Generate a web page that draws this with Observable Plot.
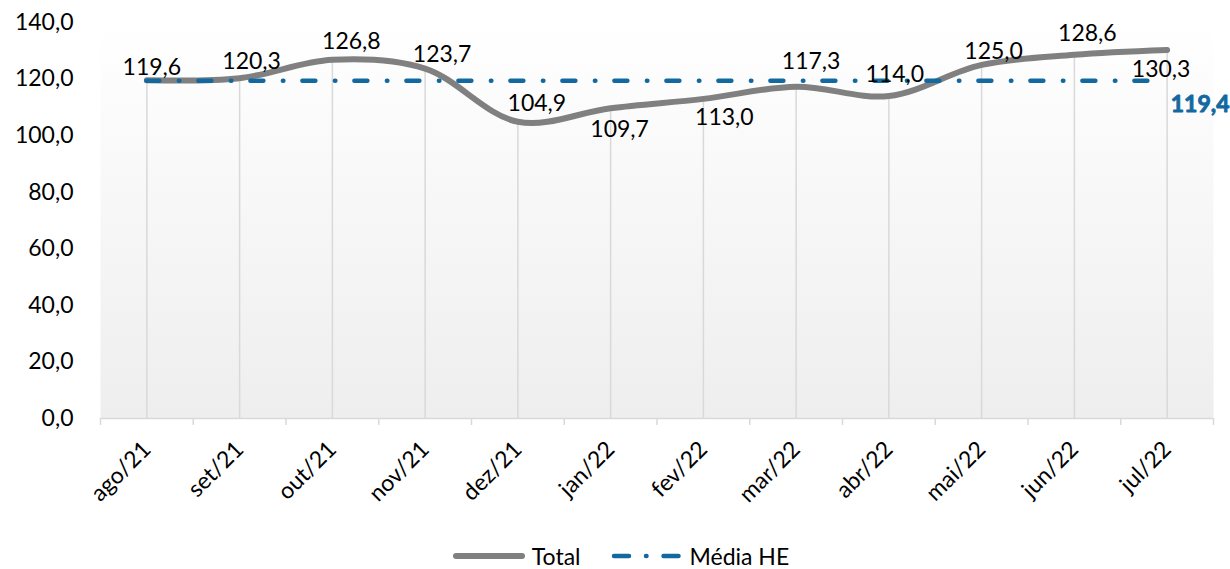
<!DOCTYPE html>
<html>
<head>
<meta charset="utf-8">
<script src="https://cdn.jsdelivr.net/npm/d3@7"></script>
<script src="https://cdn.jsdelivr.net/npm/@observablehq/plot@0.6"></script>
<style>
  html, body { margin: 0; padding: 0; background: #fff; overflow: hidden; }
  #chart { width: 1230px; }
  .legend { width: 1230px; height: 44px; box-sizing: border-box; padding-top: 18px; padding-left: 12px;
    display: flex; justify-content: center; align-items: center; font-family: Lato, sans-serif; font-size: 23px; color: #000; }
  .legend .item { display: flex; align-items: center; margin: 0 15px; }
  .legend svg { margin-right: 7px; }
</style>
</head>
<body>
<div id="chart"></div>
<div class="legend" id="legend"></div>
<script>
// ---- data ----
const months = ["ago/21", "set/21", "out/21", "nov/21", "dez/21", "jan/22", "fev/22", "mar/22", "abr/22", "mai/22", "jun/22", "jul/22"];
const total = [119.6, 120.3, 126.8, 123.7, 104.9, 109.7, 113.0, 117.3, 114.0, 125.0, 128.6, 130.3];
const mediaHE = 119.4;
const yTicks = [0, 20, 40, 60, 80, 100, 120, 140];
const seriesNames = ["Total", "Média HE"];

// ---- style ----
const gray = "#808080";
const blue = "#13699f";
const gridColor = "#d9d9d9";
const dash = "13,19.5,0.5,19";
const fs = 23;
// per-label pixel offsets (label placement, as in the reference)
const labelOffsets = [[5,-13],[12,-17],[19,-18],[17,-14],[19,-18],[9,21],[21,19],[15,-25],[6,-21],[12,-13],[13,-21],[-6,20]];

const fmt = v => d3.format(".1f")(v).replace(".", ",");
const data = total.map((v, i) => ({i, v, month: months[i]}));
const boundaries = d3.range(months.length + 1).map(i => i - 0.5);

const chart = Plot.plot({
  width: 1230,
  height: 525,
  marginLeft: 100,
  marginRight: 17,
  marginTop: 22,
  marginBottom: 107,
  x: {domain: [-0.5, months.length - 0.5]},
  y: {domain: [0, 140]},
  style: {fontFamily: "Lato, sans-serif", fontSize: fs + "px", color: "#000", background: "#fff"},
  marks: [
    Plot.frame({fill: "url(#bgGrad)", stroke: null}),
    Plot.ruleX(data, {x: "i", y1: 0, y2: "v", stroke: gridColor, strokeWidth: 1.5}),
    Plot.ruleY([0], {stroke: gridColor, strokeWidth: 1.5}),
    Plot.axisX(boundaries, {tickSize: 7, tickFormat: () => "", stroke: gridColor, strokeWidth: 1.5, strokeOpacity: 1, label: null}),
    Plot.axisX(d3.range(months.length), {tickSize: 0, tickPadding: 27, tickFormat: i => months[i], tickRotate: -45, fontSize: fs, fill: "#000", label: null}),
    Plot.axisY(yTicks, {tickSize: 0, tickPadding: 27, tickFormat: fmt, fontSize: fs, fill: "#000", label: null}),
    Plot.line(data, {x: "i", y: "v", curve: "catmull-rom", stroke: gray, strokeWidth: 6, strokeLinecap: "round"}),
    Plot.ruleY([mediaHE], {x1: 0, x2: months.length - 1, stroke: blue, strokeWidth: 4.5, strokeDasharray: dash, strokeLinecap: "round"}),
    ...data.map((d, k) => Plot.text([d], {x: "i", y: "v", text: d => fmt(d.v), dx: labelOffsets[k][0], dy: labelOffsets[k][1], fontSize: fs, fill: "#000"})),
    Plot.text([mediaHE], {x: months.length - 1, y: d => d, text: d => fmt(d), dx: 33, dy: 24, fontSize: fs, fontWeight: "bold", fill: blue, stroke: blue, strokeWidth: 0.9})
  ]
});

const defs = d3.select(chart).insert("defs", ":first-child");
const g = defs.append("linearGradient").attr("id", "bgGrad").attr("x1", 0).attr("y1", 0).attr("x2", 0).attr("y2", 1);
g.append("stop").attr("offset", "0%").attr("stop-color", "#ffffff");
g.append("stop").attr("offset", "100%").attr("stop-color", "#eeeeee");

document.getElementById("chart").appendChild(chart);

// legend
const legend = d3.select("#legend");
const it1 = legend.append("div").attr("class", "item");
const s1 = it1.append("svg").attr("width", 72).attr("height", 12);
s1.append("line").attr("x1", 3).attr("x2", 69).attr("y1", 6).attr("y2", 6).attr("stroke", gray).attr("stroke-width", 6).attr("stroke-linecap", "round");
it1.append("span").text(seriesNames[0]);
const it2 = legend.append("div").attr("class", "item");
const s2 = it2.append("svg").attr("width", 72).attr("height", 12);
s2.append("line").attr("x1", 3).attr("x2", 69).attr("y1", 6).attr("y2", 6).attr("stroke", blue).attr("stroke-width", 4.5).attr("stroke-linecap", "round").attr("stroke-dasharray", "15,17,0.5,17");
it2.append("span").text(seriesNames[1]);
</script>
</body>
</html>
